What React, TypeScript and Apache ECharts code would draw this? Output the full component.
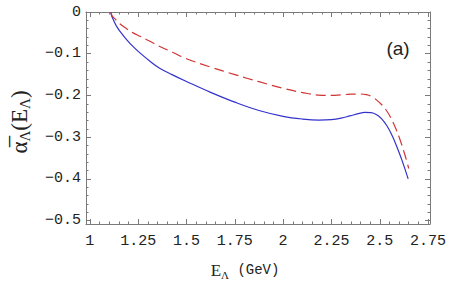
import React, { useEffect, useRef } from "react";
import * as echarts from "echarts";

const blueX = [1.109, 1.110, 1.114, 1.121, 1.13, 1.138, 1.155, 1.19, 1.224, 1.259, 1.311, 1.359, 1.425, 1.5, 1.625, 1.75, 1.875, 2.0, 2.1, 2.185, 2.25, 2.3, 2.346, 2.39, 2.423, 2.455, 2.484, 2.51, 2.536, 2.562, 2.587, 2.617, 2.647];
const blueY = [0, -0.005, -0.011, -0.018, -0.027, -0.034, -0.046, -0.066, -0.083, -0.098, -0.118, -0.134, -0.15, -0.1665, -0.1925, -0.216, -0.236, -0.25, -0.2565, -0.259, -0.258, -0.2545, -0.249, -0.2435, -0.2405, -0.241, -0.246, -0.256, -0.272, -0.294, -0.321, -0.358, -0.4];
const redX = [1.109, 1.112, 1.118, 1.129, 1.155, 1.19, 1.224, 1.259, 1.311, 1.359, 1.43, 1.5, 1.625, 1.75, 1.875, 2.0, 2.1, 2.18, 2.25, 2.3, 2.35, 2.398, 2.43, 2.46, 2.501, 2.53, 2.553, 2.58, 2.605, 2.63, 2.65];
const redY = [0, -0.006, -0.011, -0.016, -0.028, -0.04, -0.05, -0.058, -0.07, -0.082, -0.097, -0.112, -0.132, -0.15, -0.167, -0.183, -0.193, -0.199, -0.2, -0.1985, -0.197, -0.1965, -0.198, -0.203, -0.218, -0.233, -0.25, -0.276, -0.306, -0.342, -0.375];

const xTicks = [1, 1.25, 1.5, 1.75, 2, 2.25, 2.5, 2.75];
const xTickLabels = ["1", "1.25", "1.5", "1.75", "2", "2.25", "2.5", "2.75"];
const yTicks = [0, -0.1, -0.2, -0.3, -0.4, -0.5];
const yTickLabels = ["0", "\u22120.1", "\u22120.2", "\u22120.3", "\u22120.4", "\u22120.5"];

const X_MIN = 0.98, X_MAX = 2.76, Y_MIN = -0.508, Y_MAX = 0.0;

function minorValues(majors: number[], step: number, lo: number, hi: number) {
  const out: number[] = [];
  const n = Math.round((hi - lo) / step);
  for (let i = 0; i <= n; i++) {
    const v = +(lo + i * step).toFixed(4);
    if (!majors.some((m) => Math.abs(m - v) < 1e-6)) out.push(v);
  }
  return out;
}

export default function App() {
  const ref = useRef<HTMLDivElement>(null);
  useEffect(() => {
    const chart = echarts.init(ref.current!, undefined, { renderer: "svg" });
    const axisColor = "#7a7a7a";
    const xMinor = minorValues(xTicks, 0.05, 1.0, 2.75);
    const yMinor = minorValues(yTicks, 0.02, -0.5, 0);
    const mono = "Liberation Mono";
    const xAxisBase = { type: "value", min: X_MIN, max: X_MAX, splitLine: { show: false } };
    const yAxisBase = { type: "value", min: Y_MIN, max: Y_MAX, splitLine: { show: false } };
    const xAxes = [
      {
        ...xAxisBase, position: "bottom",
        axisLine: { show: true, onZero: false, lineStyle: { color: axisColor, width: 1 } },
        axisTick: { show: true, inside: true, length: 5, customValues: xTicks, lineStyle: { color: axisColor } },
        axisLabel: {
          show: true, customValues: xTicks, margin: 10, color: "#222", fontFamily: mono, fontSize: 15,
          formatter: (v: number) => { const i = xTicks.findIndex((t) => Math.abs(t - v) < 1e-6); return i >= 0 ? xTickLabels[i] : ""; },
        },
      },
      {
        ...xAxisBase, position: "bottom",
        axisLine: { show: false, onZero: false },
        axisTick: { show: true, inside: true, length: 2.5, customValues: xMinor, lineStyle: { color: axisColor } },
        axisLabel: { show: false },
      },
      {
        ...xAxisBase, position: "top",
        axisLine: { show: true, onZero: false, lineStyle: { color: axisColor, width: 1 } },
        axisTick: { show: true, inside: true, length: 5, customValues: xTicks, lineStyle: { color: axisColor } },
        axisLabel: { show: false },
      },
      {
        ...xAxisBase, position: "top",
        axisLine: { show: false, onZero: false },
        axisTick: { show: true, inside: true, length: 2.5, customValues: xMinor, lineStyle: { color: axisColor } },
        axisLabel: { show: false },
      },
    ];
    const yAxes = [
      {
        ...yAxisBase, position: "left",
        axisLine: { show: true, onZero: false, lineStyle: { color: axisColor, width: 1 } },
        axisTick: { show: true, inside: true, length: 5, customValues: yTicks, lineStyle: { color: axisColor } },
        axisLabel: {
          show: true, customValues: yTicks, margin: 5, color: "#222", fontFamily: mono, fontSize: 15,
          formatter: (v: number) => { const i = yTicks.findIndex((t) => Math.abs(t - v) < 1e-6); return i >= 0 ? yTickLabels[i] : ""; },
        },
      },
      {
        ...yAxisBase, position: "left",
        axisLine: { show: false, onZero: false },
        axisTick: { show: true, inside: true, length: 2.5, customValues: yMinor, lineStyle: { color: axisColor } },
        axisLabel: { show: false },
      },
      {
        ...yAxisBase, position: "right",
        axisLine: { show: true, onZero: false, lineStyle: { color: axisColor, width: 1 } },
        axisTick: { show: true, inside: true, length: 5, customValues: yTicks, lineStyle: { color: axisColor } },
        axisLabel: { show: false },
      },
      {
        ...yAxisBase, position: "right",
        axisLine: { show: false, onZero: false },
        axisTick: { show: true, inside: true, length: 2.5, customValues: yMinor, lineStyle: { color: axisColor } },
        axisLabel: { show: false },
      },
    ];
    chart.setOption({
      animation: false,
      backgroundColor: "#ffffff",
      grid: { left: 86, right: 28, top: 12, bottom: 59, containLabel: false },
      xAxis: xAxes,
      yAxis: yAxes,
      series: [
        {
          type: "line", xAxisIndex: 0, yAxisIndex: 0, showSymbol: false, smooth: 0.4,
          data: blueX.map((x, i) => [x, blueY[i]]),
          lineStyle: { color: "#3333cc", width: 1.2 },
        },
        {
          type: "line", xAxisIndex: 0, yAxisIndex: 0, showSymbol: false, smooth: 0.4,
          data: redX.map((x, i) => [x, redY[i]]),
          lineStyle: { color: "#d03535", width: 1.2, type: [10, 5] },
        },
      ],
      graphic: [
        {
          type: "text", x: 19, y: 122, rotation: Math.PI / 2, originX: 0, originY: 0,
          style: {
            text: "{a|\u03B1\u0305}{s|\u039B}{a|(E}{s|\u039B}{a|)}",
            align: "center", verticalAlign: "middle",
            rich: {
              a: { fontFamily: "Liberation Serif", fontSize: 23, fill: "#222", lineHeight: 26, verticalAlign: "middle" },
              s: { fontFamily: "Liberation Serif", fontSize: 15, fill: "#222", lineHeight: 26, verticalAlign: "bottom" },
            },
          },
        },
        {
          type: "text", x: 245, y: 270,
          style: {
            text: "{a|E}{s|\u039B}{m| (GeV)}",
            align: "center", verticalAlign: "middle",
            rich: {
              a: { fontFamily: "Liberation Serif", fontSize: 17, fill: "#222", lineHeight: 20, verticalAlign: "middle" },
              s: { fontFamily: "Liberation Serif", fontSize: 11, fill: "#222", lineHeight: 20, verticalAlign: "bottom" },
              m: { fontFamily: "Liberation Mono", fontSize: 14, fill: "#222", lineHeight: 20, verticalAlign: "middle" },
            },
          },
        },
        {
          type: "text", x: 398, y: 48,
          style: { text: "(a)", align: "center", verticalAlign: "middle", fontFamily: "Liberation Sans", fontSize: 19, fill: "#222" },
        },
      ],
    });
    return () => chart.dispose();
  }, []);
  return <div ref={ref} style={{ position: "fixed", left: 0, top: 0, width: 458, height: 283 }} />;
}
